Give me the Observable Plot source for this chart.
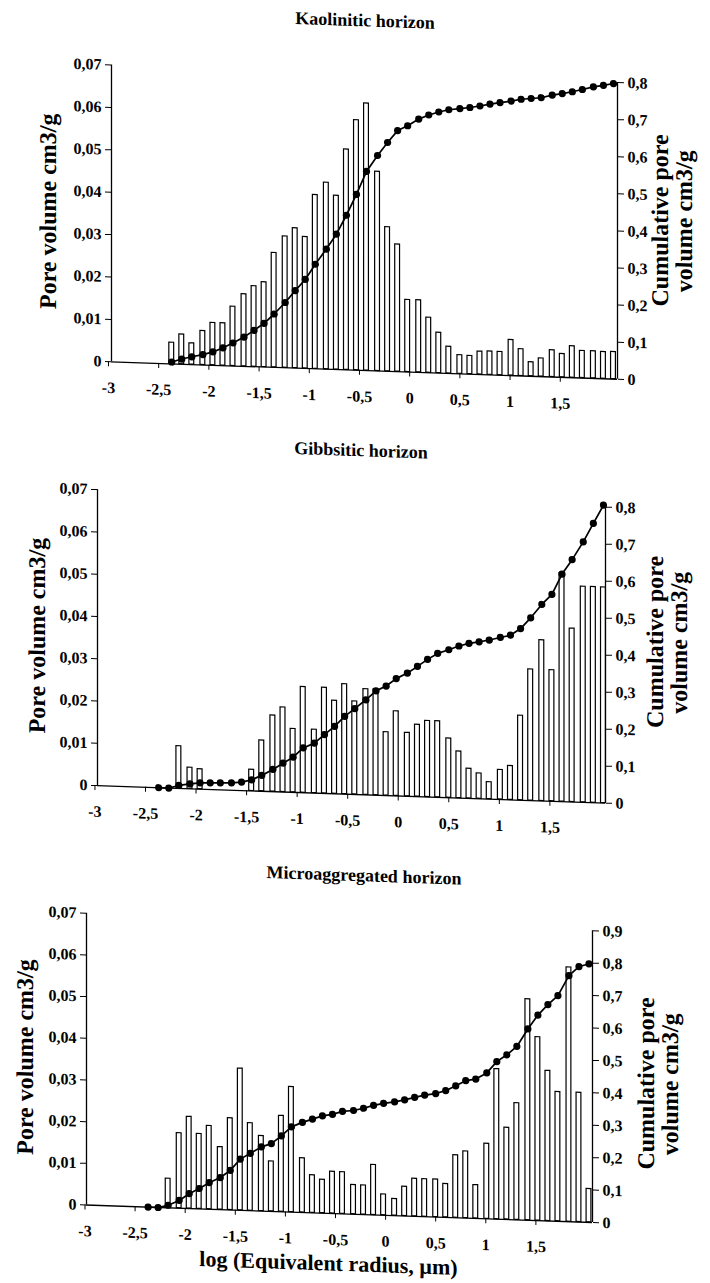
<!DOCTYPE html>
<html>
<head>
<meta charset="utf-8">
<script src="https://cdn.jsdelivr.net/npm/d3@7"></script>
<script src="https://cdn.jsdelivr.net/npm/@observablehq/plot@0.6"></script>
<style>
html, body { margin: 0; padding: 0; background: #fff; overflow: hidden; }
#page {
  position: relative; width: 710px; height: 1283px; overflow: hidden;
  transform: skewY(1.976deg); transform-origin: 355px 0;
  font-family: "Liberation Serif", "Times New Roman", serif; color: #000;
}
.title { position: absolute; left: 0; width: 710px; text-align: center; font-weight: bold;
  font-size: 18px; line-height: 22px; height: 22px; white-space: nowrap; }
.panel { position: absolute; left: 0; width: 710px; }
.panel svg { position: absolute; left: 0; top: 0; }
</style>
</head>
<body>
<div id="page"></div>
<script>
// ---------------- data ----------------
const xPos = [-2.35, -2.25, -2.15, -2.04, -1.94, -1.84, -1.74, -1.63, -1.53, -1.43,
  -1.33, -1.22, -1.12, -1.02, -0.92, -0.81, -0.71, -0.61, -0.51, -0.41,
  -0.30, -0.20, -0.10, 0.00, 0.11, 0.21, 0.31, 0.41, 0.52, 0.62,
  0.72, 0.82, 0.92, 1.03, 1.13, 1.23, 1.33, 1.44, 1.54, 1.64,
  1.74, 1.85, 1.95, 2.05];

const kaoPore = [0.005, 0.007, 0.005, 0.008, 0.010, 0.010, 0.014, 0.017, 0.019, 0.020,
  0.027, 0.031, 0.033, 0.031, 0.041, 0.044, 0.041, 0.052, 0.059, 0.063,
  0.047, 0.034, 0.030, 0.017, 0.017, 0.013, 0.0095, 0.0063, 0.0044, 0.0043,
  0.0054, 0.0055, 0.0055, 0.0084, 0.0063, 0.0033, 0.0043, 0.0063, 0.0055, 0.0074,
  0.0064, 0.0064, 0.0063, 0.0064];
const kaoCum = [0.005, 0.014, 0.021, 0.028, 0.036, 0.048, 0.062, 0.079, 0.098, 0.118,
  0.144, 0.176, 0.209, 0.240, 0.282, 0.324, 0.365, 0.417, 0.474, 0.537,
  0.581, 0.617, 0.650, 0.664, 0.683, 0.695, 0.704, 0.711, 0.715, 0.719,
  0.724, 0.730, 0.735, 0.740, 0.746, 0.749, 0.752, 0.760, 0.765, 0.771,
  0.778, 0.786, 0.791, 0.797];

const gibPore = [0, 0, 0.010, 0.005, 0.0047, 0, 0, 0, 0, 0.005,
  0.012, 0.018, 0.020, 0.015, 0.025, 0.015, 0.025, 0.022, 0.026, 0.022,
  0.025, 0.025, 0.015, 0.020, 0.015, 0.017, 0.018, 0.018, 0.014, 0.011,
  0.007, 0.006, 0.004, 0.007, 0.008, 0.020, 0.031, 0.038, 0.031, 0.054,
  0.041, 0.051, 0.051, 0.051];
const gibCum = [0.000, 0.000, 0.008, 0.0135, 0.017, 0.018, 0.019, 0.020, 0.023, 0.030,
  0.043, 0.060, 0.078, 0.095, 0.121, 0.135, 0.159, 0.182, 0.210, 0.232,
  0.257, 0.282, 0.296, 0.317, 0.333, 0.352, 0.372, 0.389, 0.400, 0.411,
  0.419, 0.424, 0.430, 0.438, 0.445, 0.464, 0.494, 0.531, 0.559, 0.615,
  0.655, 0.704, 0.755, 0.805];

const micPore = [0, 0, 0.007, 0.018, 0.022, 0.018, 0.020, 0.015, 0.022, 0.034,
  0.021, 0.018, 0.012, 0.023, 0.030, 0.013, 0.009, 0.008, 0.010, 0.010,
  0.007, 0.007, 0.012, 0.005, 0.004, 0.007, 0.009, 0.009, 0.009, 0.008,
  0.015, 0.016, 0.008, 0.018, 0.036, 0.022, 0.028, 0.053, 0.044, 0.036,
  0.031, 0.061, 0.031, 0.008];
const micCum = [0.000, 0.000, 0.008, 0.024, 0.046, 0.063, 0.082, 0.099, 0.122, 0.158,
  0.177, 0.198, 0.209, 0.234, 0.263, 0.278, 0.289, 0.300, 0.306, 0.316,
  0.320, 0.328, 0.338, 0.345, 0.351, 0.358, 0.367, 0.375, 0.381, 0.391,
  0.407, 0.424, 0.430, 0.450, 0.486, 0.508, 0.535, 0.590, 0.634, 0.667,
  0.696, 0.759, 0.788, 0.797];

const xTicks = [-3, -2.5, -2, -1.5, -1, -0.5, 0, 0.5, 1, 1.5];
const poreTicks = [0, 0.01, 0.02, 0.03, 0.04, 0.05, 0.06, 0.07];
const cumTicks8 = [0, 0.1, 0.2, 0.3, 0.4, 0.5, 0.6, 0.7, 0.8];
const cumTicks9 = [0, 0.1, 0.2, 0.3, 0.4, 0.5, 0.6, 0.7, 0.8, 0.9];

const titles = ["Kaolinitic horizon", "Gibbsitic horizon", "Microaggregated horizon"];
const yLabel = "Pore volume cm3/g";
const y2Label = "Cumulative pore\nvolume cm3/g";
const xLabel = "log (Equivalent radius, \u00b5m)";

// ---------------- layout (positions / styles only) ----------------
const layouts = [
  {top: 40, height: 380, frameTop: 73, frameBottom: 369.7, left: 111, right: 617,
   xDomain: [-2.95, 2.09], titleY: 20, titleDx: 10, yLabelDx: -63, y2LabelDx: 55, y2LabelDy: -12},
  {top: 465, height: 370, frameTop: 498, frameBottom: 794, left: 97, right: 605,
   xDomain: [-2.955, 2.07], titleY: 450, titleDx: 6, yLabelDx: -60, y2LabelDx: 62, y2LabelDy: -15},
  {top: 890, height: 393, frameTop: 922, frameBottom: 1213.8, left: 86, right: 592,
   xDomain: [-2.965, 2.085], titleY: 875, titleDx: 9, yLabelDx: -61, y2LabelDx: 66, y2LabelDy: 5}
];

const series = [
  {pore: kaoPore, cum: kaoCum, cumTicks: cumTicks8},
  {pore: gibPore, cum: gibCum, cumTicks: cumTicks8},
  {pore: micPore, cum: micCum, cumTicks: cumTicks9}
];

const comma = d => String(d).replace(".", ",");
const fontFamily = '"Liberation Serif", "Times New Roman", serif';
const baseStyle = {background: "transparent", color: "black", fontFamily,
  fontSize: "16px", fontWeight: "bold", overflow: "visible"};
const halfStep = 0.05;

const page = document.getElementById("page");

series.forEach((s, k) => {
  const L = layouts[k];
  const rows = xPos.map((x, i) => ({x, pore: s.pore[i], cum: s.cum[i]}));

  const t = document.createElement("div");
  t.className = "title";
  t.style.top = (L.titleY - 11) + "px";
  t.style.left = L.titleDx + "px";
  t.textContent = titles[k];
  page.appendChild(t);

  const panel = document.createElement("div");
  panel.className = "panel";
  panel.style.top = L.top + "px";
  panel.style.height = L.height + "px";
  page.appendChild(panel);

  const dims = {
    width: 710, height: L.height,
    marginTop: L.frameTop - L.top,
    marginBottom: L.top + L.height - L.frameBottom,
    marginLeft: L.left, marginRight: 710 - L.right
  };

  const barMarks = [
    Plot.rect(rows.filter(d => d.pore > 0), {
      x1: d => d.x - halfStep, x2: d => d.x + halfStep, y1: 0, y2: "pore",
      fill: "white", stroke: "black", strokeWidth: 1.2, insetLeft: 2.6, insetRight: 2.6
    }),
    Plot.ruleY([0], {stroke: "black", strokeWidth: 1.3}),
    Plot.ruleX([L.xDomain[0]], {stroke: "black", strokeWidth: 1.3}),
    Plot.axisY({ticks: poreTicks, tickFormat: comma, tickSize: 6, tickPadding: 4, label: null}),
    Plot.axisX({ticks: xTicks, tickFormat: comma, tickSize: 5, tickPadding: 15, dx: 2, label: null}),
    Plot.text([yLabel], {text: d => d, frameAnchor: "left", textAnchor: "middle", lineAnchor: "middle",
      rotate: -90, dx: L.yLabelDx, fontSize: 24, fontWeight: "bold"})
  ];
  if (k === 2) {
    barMarks.push(Plot.text([xLabel], {text: d => d, frameAnchor: "bottom", textAnchor: "middle",
      lineAnchor: "middle", dx: -11, dy: 50, fontSize: 22, fontWeight: "bold"}));
  }

  const left = Plot.plot({
    ...dims,
    x: {domain: L.xDomain},
    y: {domain: [0, poreTicks[poreTicks.length - 1]]},
    style: baseStyle,
    marks: barMarks
  });

  const right = Plot.plot({
    ...dims,
    x: {domain: L.xDomain, axis: null},
    y: {domain: [0, s.cumTicks[s.cumTicks.length - 1]]},
    style: baseStyle,
    marks: [
      Plot.ruleX([L.xDomain[1]], {stroke: "black", strokeWidth: 1.3}),
      Plot.line(rows, {x: "x", y: "cum", stroke: "black", strokeWidth: 1.7}),
      Plot.dot(rows, {x: "x", y: "cum", r: 3.6, fill: "black", stroke: "none"}),
      Plot.axisY({anchor: "right", ticks: s.cumTicks, tickFormat: comma, tickSize: 6,
        tickPadding: 4, label: null}),
      Plot.text([y2Label], {text: d => d, frameAnchor: "right", textAnchor: "middle", lineAnchor: "middle",
        rotate: -90, dx: L.y2LabelDx, dy: L.y2LabelDy, fontSize: 24, fontWeight: "bold", lineHeight: 1.0})
    ]
  });

  panel.appendChild(left);
  panel.appendChild(right);
});
</script>
</body>
</html>
